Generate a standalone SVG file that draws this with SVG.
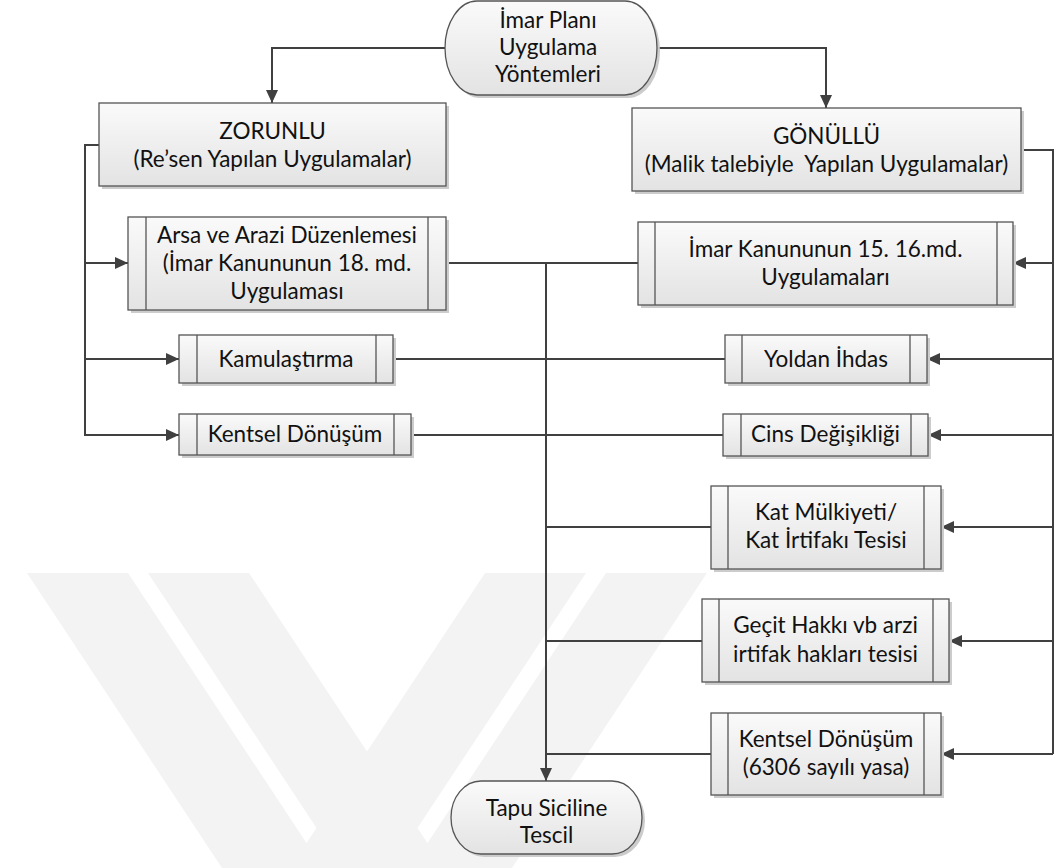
<svg xmlns="http://www.w3.org/2000/svg" width="1056" height="868" viewBox="0 0 1056 868">
<defs>
<linearGradient id="gf" x1="0" y1="0" x2="0" y2="1">
<stop offset="0" stop-color="#fafafa"/>
<stop offset="1" stop-color="#e3e3e3"/>
</linearGradient>
<marker id="ah" markerUnits="userSpaceOnUse" markerWidth="13" markerHeight="12" refX="13" refY="6" orient="auto">
<path d="M0,0 L13,6 L0,12 z" fill="#404040"/>
</marker>
<style>
.wm{fill:#f3f3f3}
.c{fill:none;stroke:#404040;stroke-width:2}
.ca{fill:none;stroke:#404040;stroke-width:2;marker-end:url(#ah)}
.sh{fill:#cccccc}
.b{fill:url(#gf);stroke:#555555;stroke-width:1.3}
.il{stroke:#555555;stroke-width:1.3}
.t{font-family:Lato,"Open Sans",sans-serif;font-size:22.5px;fill:#111111;text-anchor:middle;white-space:pre}
</style>
</defs>
<rect x="0" y="0" width="1056" height="868" fill="#ffffff"/>
<g id="watermark">
<polygon class="wm" points="27,573 128,573 323,868 222,868"/>
<polygon class="wm" points="148,573 249,573 444,868 343,868"/>
<polygon class="wm" points="485,573 586,573 391,868 290,868"/>
<polygon class="wm" points="606,573 707,573 512,868 411,868"/>
</g>
<g id="connectors">
<path class="ca" d="M445,48 H272 V103"/>
<path class="ca" d="M657,48 H826 V108"/>
<path class="c" d="M99,145 H85 V435 H98"/>
<path class="ca" d="M85,263 H128"/>
<path class="ca" d="M85,359 H179"/>
<path class="ca" d="M85,435 H179"/>
<path class="c" d="M1021,150 H1053 V754"/>
<path class="ca" d="M1053,263 H1013"/>
<path class="ca" d="M1053,359 H927"/>
<path class="ca" d="M1053,435 H928"/>
<path class="ca" d="M1053,527 H941"/>
<path class="ca" d="M1053,641 H949"/>
<path class="ca" d="M1053,754 H941"/>
<path class="c" d="M446,263 H638"/>
<path class="c" d="M393,359 H725"/>
<path class="c" d="M411,435 H723"/>
<path class="c" d="M546,527 H711"/>
<path class="c" d="M546,641 H702"/>
<path class="c" d="M546,754 H711"/>
<path class="ca" d="M546,263 V781"/>
</g>
<g id="n-imar-plani">
<rect class="sh" x="448" y="4" width="212" height="94" rx="32" ry="47"/>
<rect class="b" x="445" y="1" width="212" height="94" rx="32" ry="47"/>
<text class="t" x="548" y="28">İmar Planı</text>
<text class="t" x="548" y="55">Uygulama</text>
<text class="t" x="548" y="82">Yöntemleri</text>
</g>
<g id="n-zorunlu">
<rect class="sh" x="102" y="106" width="347" height="83"/>
<rect class="b" x="99" y="103" width="347" height="83"/>
<text class="t" x="272.5" y="139">ZORUNLU</text>
<text class="t" x="272.5" y="167">(Re’sen Yapılan Uygulamalar)</text>
</g>
<g id="n-gonullu">
<rect class="sh" x="635" y="111" width="389" height="83"/>
<rect class="b" x="632" y="108" width="389" height="83"/>
<text class="t" x="826.5" y="144">GÖNÜLLÜ</text>
<text class="t" x="826.5" y="172">(Malik talebiyle  Yapılan Uygulamalar)</text>
</g>
<g id="n-arsa">
<rect class="sh" x="131" y="220" width="318" height="93"/>
<rect class="b" x="128" y="217" width="318" height="93"/>
<line class="il" x1="146" y1="217" x2="146" y2="310"/>
<line class="il" x1="428" y1="217" x2="428" y2="310"/>
<text class="t" x="287" y="243">Arsa ve Arazi Düzenlemesi</text>
<text class="t" x="287" y="271">(İmar Kanununun 18. md.</text>
<text class="t" x="287" y="299">Uygulaması</text>
</g>
<g id="n-imar-15-16">
<rect class="sh" x="641" y="225" width="375" height="83"/>
<rect class="b" x="638" y="222" width="375" height="83"/>
<line class="il" x1="655" y1="222" x2="655" y2="305"/>
<line class="il" x1="997" y1="222" x2="997" y2="305"/>
<text class="t" x="825.5" y="257">İmar Kanununun 15. 16.md.</text>
<text class="t" x="825.5" y="285">Uygulamaları</text>
</g>
<g id="n-kamulastirma">
<rect class="sh" x="182" y="338" width="214" height="48"/>
<rect class="b" x="179" y="335" width="214" height="48"/>
<line class="il" x1="197" y1="335" x2="197" y2="383"/>
<line class="il" x1="376" y1="335" x2="376" y2="383"/>
<text class="t" x="286" y="367">Kamulaştırma</text>
</g>
<g id="n-kentsel-1">
<rect class="sh" x="182" y="417" width="232" height="41"/>
<rect class="b" x="179" y="414" width="232" height="41"/>
<line class="il" x1="197" y1="414" x2="197" y2="455"/>
<line class="il" x1="394" y1="414" x2="394" y2="455"/>
<text class="t" x="295" y="442">Kentsel Dönüşüm</text>
</g>
<g id="n-yoldan">
<rect class="sh" x="728" y="338" width="202" height="48"/>
<rect class="b" x="725" y="335" width="202" height="48"/>
<line class="il" x1="742" y1="335" x2="742" y2="383"/>
<line class="il" x1="910" y1="335" x2="910" y2="383"/>
<text class="t" x="826" y="367">Yoldan İhdas</text>
</g>
<g id="n-cins">
<rect class="sh" x="726" y="417" width="205" height="42"/>
<rect class="b" x="723" y="414" width="205" height="42"/>
<line class="il" x1="741" y1="414" x2="741" y2="456"/>
<line class="il" x1="911" y1="414" x2="911" y2="456"/>
<text class="t" x="825.5" y="442">Cins Değişikliği</text>
</g>
<g id="n-kat">
<rect class="sh" x="714" y="489" width="230" height="83"/>
<rect class="b" x="711" y="486" width="230" height="83"/>
<line class="il" x1="728" y1="486" x2="728" y2="569"/>
<line class="il" x1="924" y1="486" x2="924" y2="569"/>
<text class="t" x="826" y="520">Kat Mülkiyeti/</text>
<text class="t" x="826" y="548">Kat İrtifakı Tesisi</text>
</g>
<g id="n-gecit">
<rect class="sh" x="705" y="602" width="247" height="83"/>
<rect class="b" x="702" y="599" width="247" height="83"/>
<line class="il" x1="719" y1="599" x2="719" y2="682"/>
<line class="il" x1="933" y1="599" x2="933" y2="682"/>
<text class="t" x="825.5" y="633">Geçit Hakkı vb arzi</text>
<text class="t" x="825.5" y="662">irtifak hakları tesisi</text>
</g>
<g id="n-kentsel-2">
<rect class="sh" x="714" y="716" width="230" height="82"/>
<rect class="b" x="711" y="713" width="230" height="82"/>
<line class="il" x1="728" y1="713" x2="728" y2="795"/>
<line class="il" x1="924" y1="713" x2="924" y2="795"/>
<text class="t" x="826" y="747">Kentsel Dönüşüm</text>
<text class="t" x="826" y="775">(6306 sayılı yasa)</text>
</g>
<g id="n-tapu">
<rect class="sh" x="454" y="784" width="191" height="73" rx="30" ry="36.5"/>
<rect class="b" x="451" y="781" width="191" height="73" rx="30" ry="36.5"/>
<text class="t" x="546.5" y="816">Tapu Siciline</text>
<text class="t" x="546.5" y="843">Tescil</text>
</g>
</svg>
